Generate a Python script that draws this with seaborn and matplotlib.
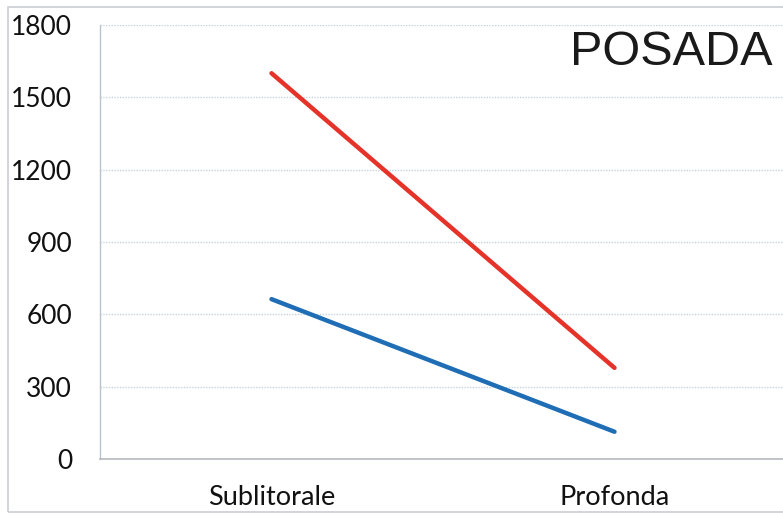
import matplotlib
matplotlib.use("Agg")
import matplotlib.pyplot as plt
import seaborn as sns
import pandas as pd
from matplotlib.patches import Rectangle

categories = ["Sublitorale", "Profonda"]
red_values = [1600, 378]
blue_values = [663, 113]
series_names = ["rosso", "blu"]
y_ticks = [0, 300, 600, 900, 1200, 1500, 1800]
title_text = "POSADA"

df = pd.DataFrame({
    "cat": categories * 2,
    "val": red_values + blue_values,
    "serie": [series_names[0]] * 2 + [series_names[1]] * 2,
})

sns.set_style("white")
W, H = 783, 516
fig = plt.figure(figsize=(W / 100, H / 100), dpi=100)
fig.patches.append(Rectangle((8 / W, 1 - 512 / H), 1.0, (512 - 7) / H,
                             transform=fig.transFigure, fill=False,
                             edgecolor="#c9cdd2", linewidth=1.2))
ax = fig.add_axes([100 / W, 57 / H, 686 / W, 434 / H])

sns.lineplot(data=df, x="cat", y="val", hue="serie",
             palette={"rosso": "#e5332a", "blu": "#1f6db5"},
             linewidth=3.2, legend=False, ax=ax, sort=False)

ax.set_xlim(-0.5, 1.5)
ax.set_ylim(0, 1800)
ax.set_yticks(y_ticks)
ax.set_yticklabels([str(v) for v in y_ticks], fontfamily="Lato", fontsize=19, color="#111111")
ax.set_xticks([0, 1])
ax.set_xticklabels(categories, fontfamily="Lato", fontsize=19.5, color="#111111")
ax.set_xticks([-0.5, 0.5, 1.5], minor=True)
ax.tick_params(axis="x", which="major", length=0, pad=19)
ax.tick_params(axis="x", which="minor", length=8, color="#b8c3cf", width=1, direction="out")
ax.tick_params(axis="y", which="major", length=7, color="#b8c3cf", width=1, pad=13, direction="out")
ax.set_xlabel("")
ax.set_ylabel("")
ax.grid(axis="y", linestyle=(0, (1, 1)), color="#c5d3df", linewidth=1)
ax.set_axisbelow(True)
for s in ["top", "right"]:
    ax.spines[s].set_visible(False)
ax.spines["left"].set_color("#b8c3cf")
ax.spines["bottom"].set_color("#b5b9be")
ax.spines["left"].set_linewidth(1)
ax.spines["bottom"].set_linewidth(1.2)

fig.text(772 / W, 1 - 65 / H, title_text, ha="right", va="baseline",
         fontfamily="Liberation Sans", fontsize=35, color="#1a1a1a")

fig.savefig("out.png", dpi=100)
